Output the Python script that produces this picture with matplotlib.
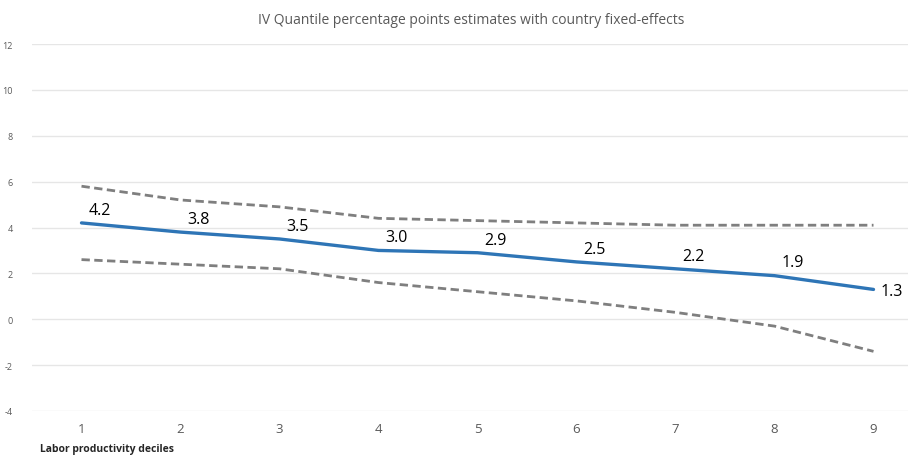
import matplotlib
matplotlib.use("Agg")
import matplotlib.pyplot as plt

deciles = [1, 2, 3, 4, 5, 6, 7, 8, 9]
estimate = [4.2, 3.8, 3.5, 3.0, 2.9, 2.5, 2.2, 1.9, 1.3]
upper_ci = [5.8, 5.2, 4.9, 4.4, 4.3, 4.2, 4.1, 4.1, 4.1]
lower_ci = [2.6, 2.4, 2.2, 1.6, 1.2, 0.8, 0.3, -0.3, -1.4]
y_ticks = [-4, -2, 0, 2, 4, 6, 8, 10, 12]

W, H = 908, 456
fig = plt.figure(figsize=(W / 100, H / 100), dpi=100)
plt.rcParams['font.family'] = ['Open Sans', 'DejaVu Sans']
plt.rcParams['axes.unicode_minus'] = False

# axes spans x 0.5..9.5 and y -4..12
x0, x1 = 32, 923
y_top, y_bot = 45, 412
ax = fig.add_axes([x0 / W, 1 - y_bot / H, (x1 - x0) / W, (y_bot - y_top) / H])
ax.set_xlim(0.5, 9.5)
ax.set_ylim(-4, 12)

for s in ax.spines.values():
    s.set_visible(False)
ax.set_yticks(y_ticks)
ax.set_xticks(deciles)
ax.grid(axis='y', color='#e6e6e6', linewidth=1)
ax.set_axisbelow(True)
ax.tick_params(axis='y', length=0, labelsize=6.5, labelcolor='#595959', pad=14)
ax.tick_params(axis='x', length=0, labelsize=9.5, labelcolor='#595959', pad=8)

ax.plot(deciles, upper_ci, color='#7f7f7f', linewidth=2, dashes=(3, 1.6))
ax.plot(deciles, lower_ci, color='#7f7f7f', linewidth=2, dashes=(3, 1.6))
ax.plot(deciles, estimate, color='#2e75b6', linewidth=2.4, solid_capstyle='round')

for i, (x, v) in enumerate(zip(deciles, estimate)):
    if i == len(deciles) - 1:
        ax.annotate(f"{v:.1f}", (x, v), xytext=(5, -1), textcoords='offset points',
                    ha='left', va='center', fontsize=11.5, color='black')
    else:
        ax.annotate(f"{v:.1f}", (x, v), xytext=(13, 9.5), textcoords='offset points',
                    ha='center', va='center', fontsize=11.5, color='black')

fig.text(471 / W, 1 - 20 / H, "IV Quantile percentage points estimates with country fixed-effects",
         ha='center', va='center', fontsize=10, color='#595959')
fig.text(40 / W, 1 - 450 / H, "Labor productivity deciles", ha='left', va='center',
         fontsize=7.5, fontweight='bold', color='#262626')

fig.savefig("out.png", dpi=100)
